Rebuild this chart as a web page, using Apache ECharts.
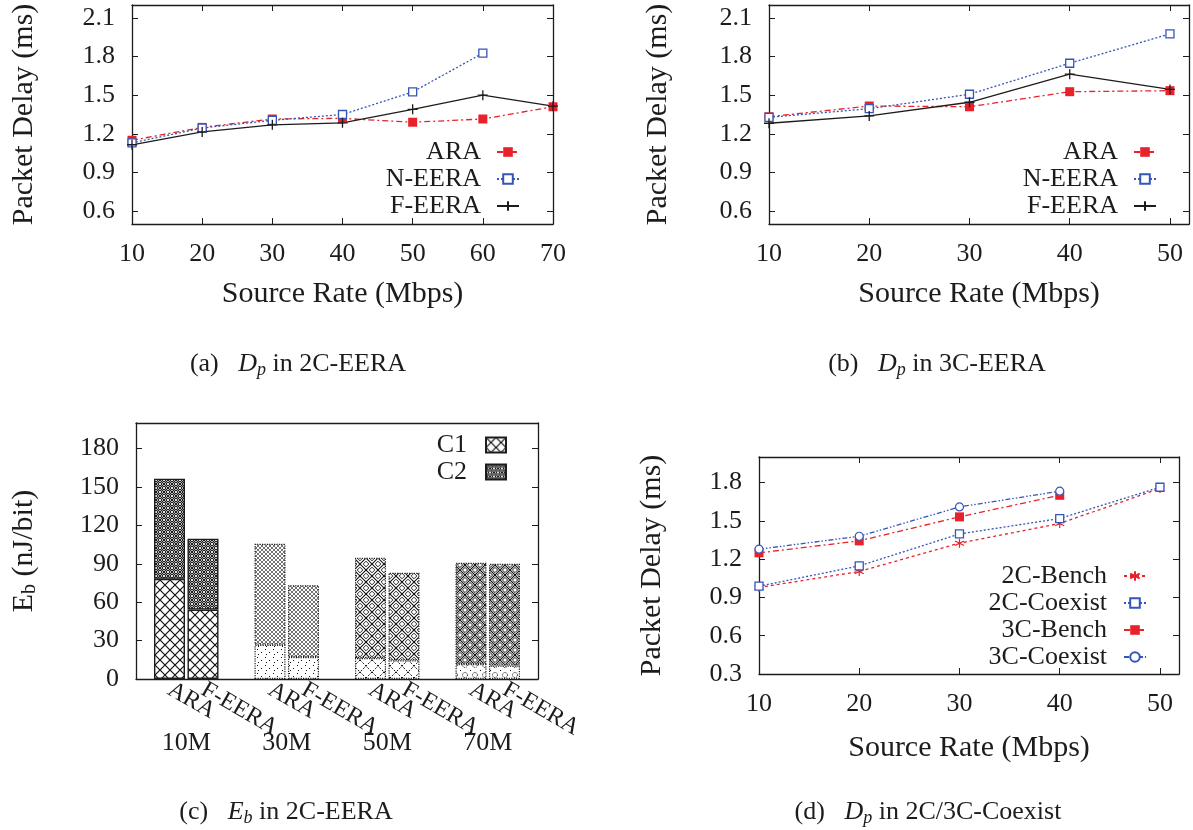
<!DOCTYPE html>
<html><head><meta charset="utf-8">
<script src="https://cdn.jsdelivr.net/npm/echarts@6/dist/echarts.min.js"></script>
<style>html,body{margin:0;padding:0;background:#fff}#c{width:1193px;height:830px}</style>
</head><body><div id="c"></div>
<script>
// ---------- data ----------
// (a) Dp in 2C-EERA
const rateA = [10, 20, 30, 40, 50, 60, 70];
const araA = [1.15, 1.25, 1.315, 1.32, 1.29, 1.315, 1.41];
const neeraA = [1.13, 1.245, 1.305, 1.35, 1.525, 1.826];
const feeraA = [1.115, 1.215, 1.27, 1.285, 1.39, 1.50, 1.415];
// (b) Dp in 3C-EERA
const rateB = [10, 20, 30, 40, 50];
const araB = [1.333, 1.416, 1.41, 1.527, 1.535];
const neeraB = [1.328, 1.395, 1.507, 1.748, 1.976];
const feeraB = [1.282, 1.339, 1.445, 1.663, 1.545];
// (c) Eb in 2C-EERA
const groupLabels = ['10M', '30M', '50M', '70M'];
const barLabels = ['ARA', 'F-EERA'];
const c1ARA = [78.3, 26.8, 16.4, 11.7];
const c2ARA = [78.2, 78.8, 78.3, 79.1];
const c1FEERA = [54.2, 17.2, 14.6, 10.6];
const c2FEERA = [55.4, 56.1, 68.4, 79.4];
// (d) Dp in 2C/3C-Coexist
const rateD = [10, 20, 30, 40, 50];
const bench2C = [0.978, 1.103, 1.325, 1.479, 1.753];
const coexist2C = [0.988, 1.147, 1.397, 1.518, 1.763];
const bench3C = [1.249, 1.343, 1.531, 1.70];
const coexist3C = [1.278, 1.379, 1.609, 1.732];
// tick labels
const rateTicksA = [10, 20, 30, 40, 50, 60, 70];
const rateTicksBD = [10, 20, 30, 40, 50];
const delayTicksAB = [0.6, 0.9, 1.2, 1.5, 1.8, 2.1];
const delayTicksD = [0.3, 0.6, 0.9, 1.2, 1.5, 1.8];
const ebTicks = [0, 30, 60, 90, 120, 150, 180];

// ---------- styling ----------
const FONT = "'Liberation Serif', 'Times New Roman', serif";
const INK = '#1c1c1c';
const RED = '#e8212b';
const BLUE = '#3556b8';
const AXLINE = { show: true, onZero: false, lineStyle: { color: INK, width: 1.3 } };

function pat(size, draw) {
  const c = document.createElement('canvas');
  c.width = size; c.height = size;
  const g = c.getContext('2d');
  g.fillStyle = '#fff'; g.fillRect(0, 0, size, size);
  g.strokeStyle = '#111'; g.fillStyle = '#111'; g.lineWidth = 1;
  draw(g, size);
  return { image: c, repeat: 'repeat' };
}
function cross(g, s, w) {
  g.lineWidth = w; g.beginPath();
  g.moveTo(0, 0); g.lineTo(s, s); g.moveTo(s, 0); g.lineTo(0, s); g.stroke();
}
function circ(g, x, y, r) { g.beginPath(); g.arc(x, y, r, 0, Math.PI * 2); g.stroke(); }
function diamond(g, x, y, r) { g.beginPath(); g.moveTo(x, y - r); g.lineTo(x + r, y); g.lineTo(x, y + r); g.lineTo(x - r, y); g.closePath(); g.stroke(); }

const patC1 = [
  pat(10, (g, s) => cross(g, s, 1.2)),
  pat(8, (g, s) => { g.fillRect(1, 1, 1, 1); g.fillRect(5, 4, 1, 1); g.fillRect(2, 6, 1, 1); }),
  pat(12, (g, s) => { g.setLineDash([2, 1.5]); cross(g, s, 1); }),
  pat(10, (g, s) => { g.setLineDash([1, 1]); circ(g, 5, 5, 2.5); g.fillRect(0, 0, 1, 1); })
];
const patC2 = [
  pat(8, (g, s) => { cross(g, s, 1.1); g.lineWidth = 1; circ(g, 4, 0, 1.6); circ(g, 4, 8, 1.6); circ(g, 0, 4, 1.6); circ(g, 8, 4, 1.6); }),
  pat(4, (g, s) => { g.strokeStyle = '#444'; cross(g, s, 0.75); }),
  pat(12, (g, s) => { cross(g, s, 1.1); g.lineWidth = 0.9; diamond(g, 6, 0, 2.8); diamond(g, 6, 12, 2.8); diamond(g, 0, 6, 2.8); diamond(g, 12, 6, 2.8); g.fillRect(5.5, 5.5, 1, 1); }),
  pat(10, (g, s) => { cross(g, s, 1.2); g.lineWidth = 1; diamond(g, 5, 0, 2.6); diamond(g, 5, 10, 2.6); diamond(g, 0, 5, 2.6); diamond(g, 10, 5, 2.6); g.fillRect(4.3, 4.3, 1.6, 1.6); })
];

// ---------- axes helpers ----------
function bottomX(gi, min, max, ticks) {
  return {
    type: 'value', gridIndex: gi, min, max, position: 'bottom',
    axisLine: AXLINE,
    axisTick: { show: true, inside: true, length: 6, customValues: ticks, lineStyle: { color: INK, width: 1 } },
    axisLabel: { show: true, customValues: ticks, margin: 17, fontFamily: FONT, fontSize: 26, color: INK, formatter: v => String(v) },
    splitLine: { show: false },
    name: 'Source Rate (Mbps)', nameLocation: 'middle', nameGap: 55,
    nameTextStyle: { fontFamily: FONT, fontSize: 30, color: INK }
  };
}
function topX(gi, min, max, ticks) {
  return {
    type: 'value', gridIndex: gi, min, max, position: 'top',
    axisLine: AXLINE,
    axisTick: { show: !!ticks, inside: true, length: 6, customValues: ticks || [], lineStyle: { color: INK, width: 1 } },
    axisLabel: { show: false }, splitLine: { show: false }
  };
}
function leftY(gi, min, max, ticks, fmt, name, gap) {
  return {
    type: 'value', gridIndex: gi, min, max, position: 'left',
    axisLine: AXLINE,
    axisTick: { show: true, inside: true, length: 6, customValues: ticks, lineStyle: { color: INK, width: 1 } },
    axisLabel: { show: true, customValues: ticks, margin: 17, fontFamily: FONT, fontSize: 26, color: INK, formatter: fmt },
    splitLine: { show: false },
    name, nameLocation: 'middle', nameGap: gap, nameRotate: 90,
    nameTextStyle: {
      fontFamily: FONT, fontSize: 30, color: INK,
      rich: { sub: { fontFamily: FONT, fontSize: 20, color: INK, padding: [12, 0, 0, 0] } }
    }
  };
}
function rightY(gi, min, max, ticks) {
  return {
    type: 'value', gridIndex: gi, min, max, position: 'right',
    axisLine: AXLINE,
    axisTick: { show: true, inside: true, length: 6, customValues: ticks, lineStyle: { color: INK, width: 1 } },
    axisLabel: { show: false }, splitLine: { show: false }
  };
}
const fmt1 = v => v.toFixed(1);
const fmt0 = v => String(v);

// ---------- series helpers ----------
const SYM_PLUS = 'path://M5 0L5 10M0 5L10 5';
const SYM_STAR = 'path://M5 0L5 10M0.7 2.5L9.3 7.5M0.7 7.5L9.3 2.5';
function line(name, xi, yi, xs, ys, color, dash, symbol, size, item) {
  return {
    type: 'line', name, xAxisIndex: xi, yAxisIndex: yi,
    data: ys.map((y, i) => [xs[i], y]),
    symbol, symbolSize: size, showSymbol: true, itemStyle: item,
    lineStyle: { color, width: 1.3, type: dash },
    emphasis: { disabled: true }
  };
}
const ST = {
  ara: ['rect', 9, { color: RED }],
  neera: ['rect', 8, { color: '#fff', borderColor: BLUE, borderWidth: 1.3 }],
  feera: [SYM_PLUS, 10, { color: 'none', borderColor: INK, borderWidth: 1.3 }],
  star: [SYM_STAR, 9, { color: 'none', borderColor: RED, borderWidth: 1.2 }],
  circ: ['circle', 8, { color: '#fff', borderColor: BLUE, borderWidth: 1.2 }]
};
const DASHDOT = [6, 3, 2, 3];
const DOT = [2, 2];
const DASHDOTDOT = [5, 2, 1.5, 2, 1.5, 2];

// ---------- bars (c): category slots: blank, ARA, F-EERA, blank, ... ----------
const barCats = [''];
const slotInfo = [null];
groupLabels.forEach((_, g) => {
  barLabels.forEach((b, j) => { barCats.push(b); slotInfo.push([g, j]); });
  barCats.push(''); slotInfo.push(null);
});
const c1s = [c1ARA, c1FEERA];
const c2s = [c2ARA, c2FEERA];
function barData(vals, pats) {
  return slotInfo.map(s => {
    if (!s) return '-';
    const [g, j] = s;
    return {
      value: vals[j][g],
      itemStyle: { color: pats[g], borderColor: INK, borderWidth: g === 0 ? 1.4 : 1.2, borderType: g === 0 ? 'solid' : 'dotted' }
    };
  });
}
const groupPos = groupLabels.map((_, g) => g * 3 + 1.5);

const legendText = (pad) => ({ fontFamily: FONT, fontSize: 26, color: INK, padding: [0, pad, 0, 0] });
const capRich = {
  it: { fontFamily: FONT, fontSize: 26, fontStyle: 'italic', color: INK },
  sub: { fontFamily: FONT, fontSize: 18, fontStyle: 'italic', color: INK, padding: [12, 0, 0, 0] }
};
function caption(text, cx, top) {
  return { text, left: cx, top, textAlign: 'center', padding: 0,
    textStyle: { fontFamily: FONT, fontSize: 26, fontWeight: 'normal', color: INK, rich: capRich } };
}

const xA = bottomX(0, 10, 70, rateTicksA);
const xB = bottomX(1, 10, 51.9, rateTicksBD);
const xD = bottomX(3, 10, 51.9, rateTicksBD); xD.nameGap = 59;

const xCbars = {
  type: 'category', gridIndex: 2, data: barCats, boundaryGap: false, position: 'bottom',
  axisLine: AXLINE, axisTick: { show: false },
  axisLabel: { show: true, interval: 0, rotate: -30, margin: 9, fontFamily: FONT, fontSize: 24, color: INK },
  splitLine: { show: false }
};
const xCgroups = {
  type: 'value', gridIndex: 2, min: 0, max: barCats.length - 1, position: 'bottom', offset: 43,
  axisLine: { show: false }, axisTick: { show: false },
  axisLabel: { show: true, customValues: groupPos, margin: 8, fontFamily: FONT, fontSize: 26, color: INK,
    formatter: v => groupLabels[Math.floor((v - 1) / 3)] },
  splitLine: { show: false }
};

const option = {
  animation: false,
  backgroundColor: '#fff',
  grid: [
    { left: 132, top: 5, width: 421, height: 219 },
    { left: 769, top: 5, width: 420, height: 219 },
    { left: 136, top: 423, width: 402, height: 256 },
    { left: 759, top: 457, width: 420, height: 217 }
  ],
  xAxis: [
    xA, topX(0, 10, 70, rateTicksA),
    xB, topX(1, 10, 51.9, rateTicksBD),
    xCbars, xCgroups, topX(2, 0, barCats.length - 1, null),
    xD, topX(3, 10, 51.9, rateTicksBD)
  ],
  yAxis: [
    leftY(0, 0.5, 2.2, delayTicksAB, fmt1, 'Packet Delay (ms)', 93), rightY(0, 0.5, 2.2, delayTicksAB),
    leftY(1, 0.5, 2.2, delayTicksAB, fmt1, 'Packet Delay (ms)', 96), rightY(1, 0.5, 2.2, delayTicksAB),
    leftY(2, 0, 200, ebTicks, fmt0, 'E{sub|b} (nJ/bit)', 96), rightY(2, 0, 200, ebTicks),
    leftY(3, 0.3, 2.0, delayTicksD, fmt1, 'Packet Delay (ms)', 92), rightY(3, 0.3, 2.0, delayTicksD)
  ],
  legend: [
    { orient: 'vertical', align: 'right', right: 673, top: 139, padding: 0, itemGap: 1, itemWidth: 22, itemHeight: 12,
      selectedMode: false, data: ['ARA', 'N-EERA', 'F-EERA'], textStyle: legendText(11) },
    { orient: 'vertical', align: 'right', right: 36, top: 139, padding: 0, itemGap: 1, itemWidth: 22, itemHeight: 12,
      selectedMode: false, data: ['ARA', 'N-EERA', 'F-EERA'], textStyle: legendText(11) },
    { orient: 'vertical', align: 'right', right: 686, top: 432, padding: 0, itemGap: 1, itemWidth: 20, itemHeight: 15,
      selectedMode: false, data: [{ name: 'C1', icon: 'rect' }, { name: 'C2', icon: 'rect' }], textStyle: legendText(14) },
    { orient: 'vertical', align: 'right', right: 46, top: 563, padding: 0, itemGap: 1, itemWidth: 22, itemHeight: 12,
      selectedMode: false, data: ['2C-Bench', '2C-Coexist', '3C-Bench', '3C-Coexist'], textStyle: legendText(12) }
  ],
  title: [
    caption('(a)   {it|D}{sub|p} in 2C-EERA', 298, 349),
    caption('(b)   {it|D}{sub|p} in 3C-EERA', 937, 349),
    caption('(c)   {it|E}{sub|b} in 2C-EERA', 286, 797),
    caption('(d)   {it|D}{sub|p} in 2C/3C-Coexist', 928, 797)
  ],
  series: [
    line('ARA', 0, 0, rateA, araA, RED, DASHDOT, ...ST.ara),
    line('N-EERA', 0, 0, rateA, neeraA, BLUE, DOT, ...ST.neera),
    line('F-EERA', 0, 0, rateA, feeraA, INK, 'solid', ...ST.feera),
    line('ARA', 2, 2, rateB, araB, RED, DASHDOT, ...ST.ara),
    line('N-EERA', 2, 2, rateB, neeraB, BLUE, DOT, ...ST.neera),
    line('F-EERA', 2, 2, rateB, feeraB, INK, 'solid', ...ST.feera),
    { type: 'bar', name: 'C1', xAxisIndex: 4, yAxisIndex: 4, stack: 'eb', barWidth: 31,
      itemStyle: { color: patC1[0], borderColor: INK, borderWidth: 1.2 }, emphasis: { disabled: true },
      data: barData(c1s, patC1) },
    { type: 'bar', name: 'C2', xAxisIndex: 4, yAxisIndex: 4, stack: 'eb', barWidth: 31,
      itemStyle: { color: patC2[0], borderColor: INK, borderWidth: 1.2 }, emphasis: { disabled: true },
      data: barData(c2s, patC2) },
    line('2C-Bench', 7, 6, rateD, bench2C, RED, [3, 3], ...ST.star),
    line('2C-Coexist', 7, 6, rateD, coexist2C, BLUE, DOT, ...ST.neera),
    line('3C-Bench', 7, 6, rateD, bench3C, RED, DASHDOT, ...ST.ara),
    line('3C-Coexist', 7, 6, rateD, coexist3C, BLUE, DASHDOTDOT, ...ST.circ)
  ]
};
const chart = echarts.init(document.getElementById('c'), null, { renderer: 'canvas' });
chart.setOption(option);
</script></body></html>
